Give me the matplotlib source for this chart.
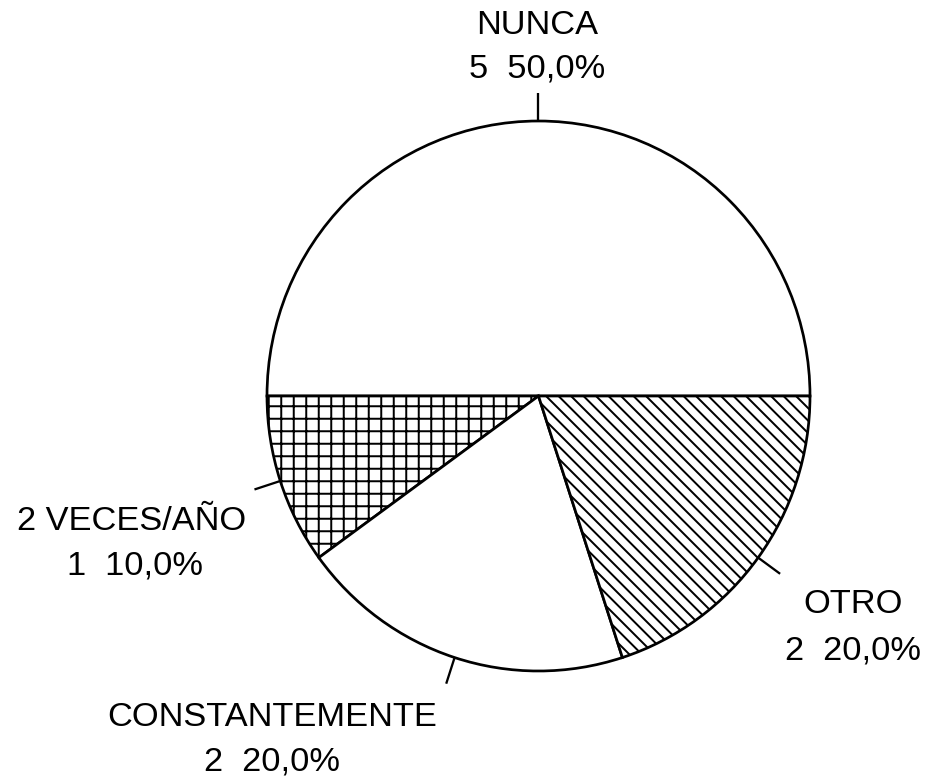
import numpy as np
import matplotlib
matplotlib.use("Agg")
import matplotlib.pyplot as plt

categories = ["NUNCA", "2 VECES/AÑO", "CONSTANTEMENTE", "OTRO"]
counts = [5, 1, 2, 2]
hatches = ["", "+", "", "\\\\"]

total = sum(counts)
pcts = [c / total * 100 for c in counts]

DPI = 75
W, H = 931, 782
CX, CY = 538.5, 397.0     # pie centre in pixels (from top-left)
RX, RY = 271.5, 275.0     # pie radii in pixels

plt.rcParams['font.family'] = ['Liberation Sans', 'DejaVu Sans']
plt.rcParams['hatch.linewidth'] = 1.9

fig = plt.figure(figsize=(W / DPI, H / DPI), dpi=DPI)
ax = fig.add_axes([0, 0, 1, 1])

wedges, _ = ax.pie(counts, startangle=0, counterclock=True,
                   colors=["white"] * len(counts), hatch=hatches,
                   wedgeprops=dict(edgecolor="black", linewidth=2.6))
ax.set_aspect('auto')
ax.set_xlim((0 - CX) / RX, (W - CX) / RX)
ax.set_ylim((CY - H) / RY, CY / RY)
ax.axis('off')


def px(x, y):
    return (x - CX) / RX, (CY - y) / RY


# leader ticks at wedge mid angles
for w in wedges:
    mid = np.deg2rad((w.theta1 + w.theta2) / 2)
    r0, r1 = 1.0, 1.1
    ax.plot([r0 * np.cos(mid), r1 * np.cos(mid)],
            [r0 * np.sin(mid), r1 * np.sin(mid)],
            color="black", lw=2.2, solid_capstyle='butt')

# label layout (pixel centres of the two lines)
label_pos = [((537, 25), (537, 69)),
             ((132, 521), (135, 566)),
             ((272, 718), (272, 762)),
             ((853, 605), (853, 651))]

fs = 33
for cat, c, p, (l1, l2) in zip(categories, counts, pcts, label_pos):
    ax.text(*px(*l1), cat, ha='center', va='center', fontsize=fs, color='black')
    ax.text(*px(*l2), f"{c}  {p:.1f}%".replace('.', ','), ha='center',
            va='center', fontsize=fs, color='black')

fig.savefig("out.png", dpi=DPI, facecolor="white")
